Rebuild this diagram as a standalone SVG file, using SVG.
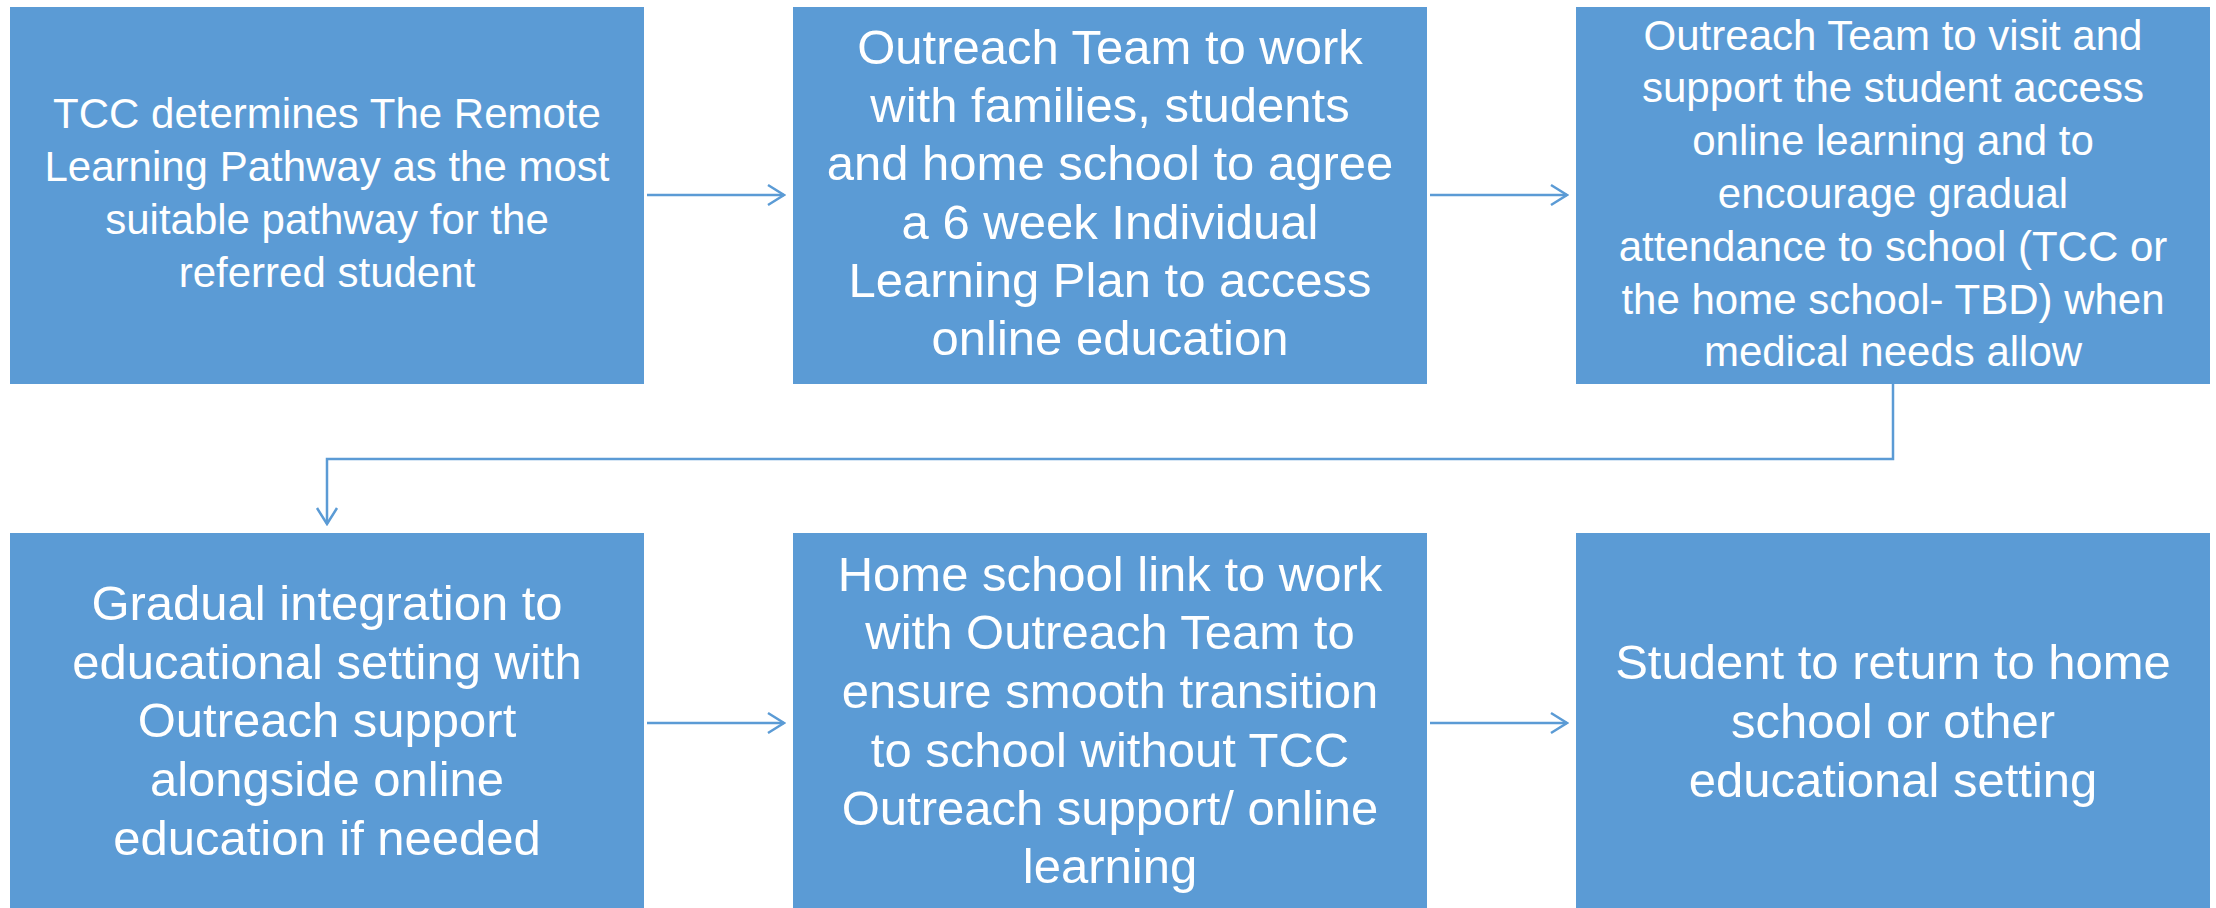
<svg xmlns="http://www.w3.org/2000/svg" width="2216" height="908" viewBox="0 0 2216 908">
<style>
.box{fill:#5B9BD5;}
.t{font-family:"Liberation Sans",Arial,sans-serif;fill:#FFFFFF;text-anchor:middle;}
.s42{font-size:42px;}
.s49{font-size:49px;}
.c{fill:none;stroke:#5B9BD5;stroke-width:2.5;}
</style>
<defs>
<marker id="arr" viewBox="0 0 20 24" refX="18" refY="12" markerWidth="20" markerHeight="24" markerUnits="userSpaceOnUse" orient="auto">
<path d="M2,2 L18,12 L2,22" fill="none" stroke="#5B9BD5" stroke-width="2.5"/>
</marker>
</defs>
<rect width="2216" height="908" fill="#FFFFFF"/>
<g id="connectors">
<line class="c" x1="647" y1="195" x2="784" y2="195" marker-end="url(#arr)"/>
<line class="c" x1="1430" y1="195" x2="1567" y2="195" marker-end="url(#arr)"/>
<polyline class="c" points="1893,384 1893,459 327,459 327,524" marker-end="url(#arr)"/>
<line class="c" x1="647" y1="723" x2="784" y2="723" marker-end="url(#arr)"/>
<line class="c" x1="1430" y1="723" x2="1567" y2="723" marker-end="url(#arr)"/>
</g>
<g id="n1">
<rect class="box" x="10" y="7" width="634" height="377"/>
<text class="t s42"><tspan x="327" y="128">TCC determines The Remote</tspan><tspan x="327" y="181">Learning Pathway as the most</tspan><tspan x="327" y="234">suitable pathway for the</tspan><tspan x="327" y="287">referred student</tspan></text>
</g>
<g id="n2">
<rect class="box" x="793" y="7" width="634" height="377"/>
<text class="t s49"><tspan x="1110" y="64">Outreach Team to work</tspan><tspan x="1110" y="122">with families, students</tspan><tspan x="1110" y="180">and home school to agree</tspan><tspan x="1110" y="239">a 6 week Individual</tspan><tspan x="1110" y="297">Learning Plan to access</tspan><tspan x="1110" y="355">online education</tspan></text>
</g>
<g id="n3">
<rect class="box" x="1576" y="7" width="634" height="377"/>
<text class="t s42"><tspan x="1893" y="50">Outreach Team to visit and</tspan><tspan x="1893" y="102">support the student access</tspan><tspan x="1893" y="155">online learning and to</tspan><tspan x="1893" y="208">encourage gradual</tspan><tspan x="1893" y="261">attendance to school (TCC or</tspan><tspan x="1893" y="314">the home school- TBD) when</tspan><tspan x="1893" y="366">medical needs allow</tspan></text>
</g>
<g id="n4">
<rect class="box" x="10" y="533" width="634" height="380"/>
<text class="t s49"><tspan x="327" y="620">Gradual integration to</tspan><tspan x="327" y="679">educational setting with</tspan><tspan x="327" y="737">Outreach support</tspan><tspan x="327" y="796">alongside online</tspan><tspan x="327" y="855">education if needed</tspan></text>
</g>
<g id="n5">
<rect class="box" x="793" y="533" width="634" height="380"/>
<text class="t s49"><tspan x="1110" y="591">Home school link to work</tspan><tspan x="1110" y="649">with Outreach Team to</tspan><tspan x="1110" y="708">ensure smooth transition</tspan><tspan x="1110" y="767">to school without TCC</tspan><tspan x="1110" y="825">Outreach support/ online</tspan><tspan x="1110" y="883">learning</tspan></text>
</g>
<g id="n6">
<rect class="box" x="1576" y="533" width="634" height="380"/>
<text class="t s49"><tspan x="1893" y="679">Student to return to home</tspan><tspan x="1893" y="738">school or other</tspan><tspan x="1893" y="797">educational setting</tspan></text>
</g>
</svg>
